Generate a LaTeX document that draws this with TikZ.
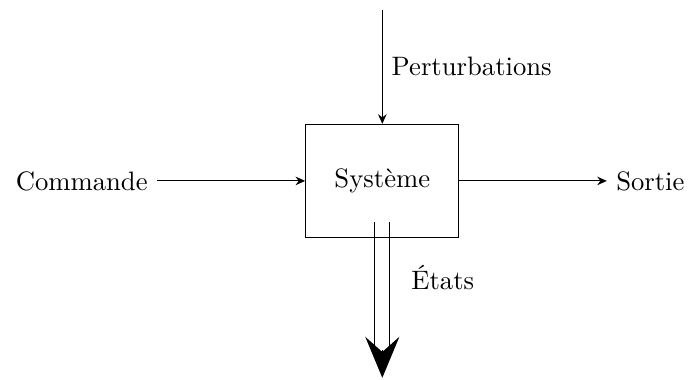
\documentclass[tikz,border=0pt]{standalone}
\usepackage{amsmath}
\usepackage{xcolor}
\usepackage{tikz}
\usetikzlibrary{arrows.meta}

\begin{document}
\begin{tikzpicture}[
    bloc/.style={draw, minimum width=2.02cm, minimum height=1.49cm},
    flux/.style={-{Stealth[length=3.6pt,width=3.2pt]}},
    etat/.style={-{Stealth[length=5.4mm,width=4.5mm,inset=2mm]}}
  ]
    \useasboundingbox (0,0) rectangle (9.07,-5.0);
    \node[bloc] (sys) at (5.04,-2.385) {Syst\`eme};
    \node[anchor=east] (cmd) at (2.07,-2.385) {Commande};
    \node[anchor=west] (out) at (8.0,-2.385) {Sortie};
    \coordinate (P) at (5.04,-0.13);
    \coordinate (E1) at (4.94,-2.93);
    \coordinate (E2) at (5.14,-2.93);
    \coordinate (F1) at (4.94,-4.64);
    \coordinate (F2) at (5.14,-4.64);
    \coordinate (H) at (5.04,-4.62);
    \coordinate (T) at (5.04,-4.98);
    \draw[flux] (cmd) -- (sys);
    \draw[flux] (sys) -- (out);
    \draw[flux] (P) -- (sys) node[midway, right] {Perturbations};
    \draw (E1) -- (F1);
    \draw (E2) -- (F2);
    \draw[etat] (H) -- (T);
    \node[anchor=west] (etats) at (5.3,-3.66) {\'Etats};
\end{tikzpicture}
\end{document}
